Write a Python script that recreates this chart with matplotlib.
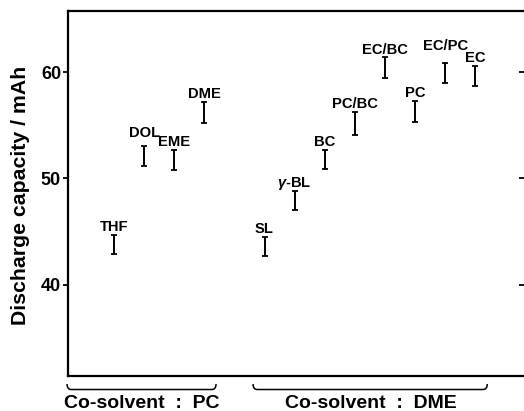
import matplotlib
matplotlib.use("Agg")
import matplotlib.pyplot as plt
from matplotlib.path import Path
from matplotlib.patches import PathPatch
import matplotlib.transforms as mtransforms

plt.rcParams['font.family'] = ['Liberation Sans', 'DejaVu Sans']
plt.rcParams['font.weight'] = 'bold'
plt.rcParams['mathtext.fontset'] = 'custom'
plt.rcParams['mathtext.it'] = 'Liberation Sans:italic:bold'
plt.rcParams['mathtext.rm'] = 'Liberation Sans:bold'

# ------------------------------------------------------------------------------
# discharge capacity ranges (mAh)

pc_solvents = ["THF", "DOL", "EME", "DME"]
pc_low  = [42.9, 51.2, 50.8, 55.2]
pc_high = [44.7, 53.1, 52.7, 57.2]

dme_solvents = ["SL", r"$\gamma$-BL", "BC", "PC/BC", "EC/BC", "PC", "EC/PC", "EC"]
dme_low  = [42.7, 47.0, 50.9, 54.1, 59.5, 55.3, 59.0, 58.7]
dme_high = [44.5, 48.8, 52.7, 56.3, 61.4, 57.3, 60.9, 60.6]

yticks = [40, 50, 60]
group_labels = ["Co-solvent  :  PC", "Co-solvent  :  DME"]

# extra lift (points) for a couple of labels that sit higher in the original
nudge = {"DOL": 3.0, "EC/PC": 6.5}

# ------------------------------------------------------------------------------

fig = plt.figure(figsize=(5.24, 4.11), dpi=100)
ax = fig.add_axes([68/524, 1-376/411, 1-68/524, (376-11)/411])

names = pc_solvents + dme_solvents
lows = pc_low + dme_low
highs = pc_high + dme_high
xs = list(range(len(pc_solvents))) + [len(pc_solvents)+1+i for i in range(len(dme_solvents))]

mids = [(lo+hi)/2 for lo, hi in zip(lows, highs)]
errs = [(hi-lo)/2 for lo, hi in zip(lows, highs)]

ax.errorbar(xs, mids, yerr=errs, fmt="none", ecolor="k", elinewidth=1.4,
            capsize=2.1, capthick=1.3)

for x, hi, name in zip(xs, highs, names):
  ax.annotate(name, (x, hi), xytext=(0, 2.8+nudge.get(name, 0)),
              textcoords="offset points", ha="center", va="baseline",
              fontsize=10.6, fontweight="bold")

ax.set_xlim((68-114)/30.1, (524-114)/30.1)
ax.set_ylim(31.38, 65.78)

ax.set_xticks([])
ax.set_yticks(yticks)
ax.set_yticklabels([str(t) for t in yticks], fontsize=13, fontweight="bold")
ax.tick_params(axis="y", which="both", left=True, right=True, direction="out",
               length=3.5, width=1.3, pad=1.5)
for t in ax.yaxis.get_major_ticks():
  t.tick2line.set_marker(matplotlib.lines.TICKLEFT)

ax.spines["right"].set_visible(False)
for s in ["left", "top", "bottom"]:
  ax.spines[s].set_linewidth(1.6)

fig.text(0.039, 0.524, "Discharge capacity / mAh", rotation=90,
         ha="center", va="center", fontsize=15.3, fontweight="bold")

# braces under the axis
trans = mtransforms.blended_transform_factory(ax.transData, ax.transAxes)
ytop, ybot = -0.022, -0.037
dx = 0.14
for x0, x1 in [(-1.56, 3.39), (4.62, 12.40)]:
  verts = [(x0, ytop), (x0, ybot), (x0+dx, ybot), (x1-dx, ybot), (x1, ybot), (x1, ytop)]
  codes = [Path.MOVETO, Path.CURVE3, Path.CURVE3, Path.LINETO, Path.CURVE3, Path.CURVE3]
  ax.add_patch(PathPatch(Path(verts, codes), fill=False, lw=1.1, ec="k",
                         transform=trans, clip_on=False))

fig.text(141.7/524, 3.5/411, group_labels[0], ha="center", va="baseline",
         fontsize=14, fontweight="bold")
fig.text(371/524, 3.5/411, group_labels[1], ha="center", va="baseline",
         fontsize=14, fontweight="bold")

fig.savefig("out.png", dpi=100)
